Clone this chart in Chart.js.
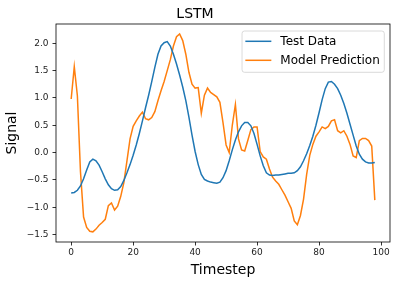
<!DOCTYPE html>
<html>
<head>
<meta charset="utf-8">
<script src="https://cdn.jsdelivr.net/npm/chart.js@4.4.1/dist/chart.umd.min.js"></script>
<style>
  html, body { margin: 0; padding: 0; background: #fff; }
  #wrap { width: 397px; height: 283px; }
</style>
</head>
<body>
<div id="wrap"><canvas id="lstm_chart"></canvas></div>
<script>
var timesteps = [0, 1, 2, 3, 4, 5, 6, 7, 8, 9, 10, 11, 12, 13, 14, 15, 16, 17, 18, 19,
    20, 21, 22, 23, 24, 25, 26, 27, 28, 29, 30, 31, 32, 33, 34, 35, 36, 37, 38, 39,
    40, 41, 42, 43, 44, 45, 46, 47, 48, 49, 50, 51, 52, 53, 54, 55, 56, 57, 58, 59,
    60, 61, 62, 63, 64, 65, 66, 67, 68, 69, 70, 71, 72, 73, 74, 75, 76, 77, 78, 79,
    80, 81, 82, 83, 84, 85, 86, 87, 88, 89, 90, 91, 92, 93, 94, 95, 96, 97, 98];

var testData = [-0.74, -0.73, -0.69, -0.61, -0.48, -0.32, -0.17, -0.12, -0.15, -0.23,
    -0.35, -0.48, -0.59, -0.66, -0.69, -0.68, -0.62, -0.51, -0.37, -0.22,
    -0.05, 0.14, 0.35, 0.58, 0.82, 1.05, 1.30, 1.56, 1.80, 1.95,
    2.01, 2.03, 1.95, 1.80, 1.62, 1.42, 1.20, 0.95, 0.65, 0.32,
    0.02, -0.22, -0.40, -0.49, -0.52, -0.54, -0.55, -0.56, -0.54, -0.46,
    -0.33, -0.15, 0.05, 0.23, 0.38, 0.49, 0.55, 0.55, 0.49, 0.35,
    0.15, -0.06, -0.24, -0.37, -0.41, -0.42, -0.41, -0.41, -0.40, -0.39,
    -0.38, -0.38, -0.37, -0.33, -0.26, -0.15, -0.02, 0.13, 0.30, 0.50,
    0.73, 0.97, 1.17, 1.29, 1.30, 1.25, 1.17, 1.05, 0.90, 0.72,
    0.52, 0.32, 0.12, -0.03, -0.12, -0.17, -0.19, -0.19, -0.18];

var modelPrediction = [0.98, 1.57, 1.04, -0.35, -1.18, -1.37, -1.44, -1.45, -1.40, -1.33,
    -1.28, -1.22, -0.97, -0.92, -1.05, -0.98, -0.80, -0.55, -0.15, 0.25,
    0.48, 0.58, 0.67, 0.74, 0.62, 0.60, 0.64, 0.75, 0.95, 1.13,
    1.30, 1.50, 1.70, 1.95, 2.12, 2.17, 2.05, 1.80, 1.47, 1.25,
    1.18, 1.19, 0.72, 1.05, 1.18, 1.10, 1.06, 1.02, 0.92, 0.55,
    0.14, 0.00, 0.50, 0.88, 0.25, 0.05, 0.03, 0.22, 0.42, 0.47,
    0.47, 0.02, -0.08, -0.12, -0.30, -0.45, -0.52, -0.58, -0.68, -0.78,
    -0.90, -1.02, -1.25, -1.32, -1.15, -0.85, -0.40, -0.05, 0.15, 0.30,
    0.38, 0.47, 0.44, 0.48, 0.58, 0.60, 0.40, 0.36, 0.40, 0.30,
    0.15, -0.06, -0.09, 0.22, 0.26, 0.26, 0.22, 0.12, -0.87];

var xTicks = [0, 20, 40, 60, 80, 100];
var yTicks = [-1.5, -1.0, -0.5, 0.0, 0.5, 1.0, 1.5, 2.0];

var FONT = '"DejaVu Sans", "Liberation Sans", sans-serif';

function points(values) {
    return timesteps.map(function (t, i) { return { x: t, y: values[i] }; });
}

// matplotlib style: box around the axes and legend inside upper right
var frameAndLegend = {
    id: 'frameAndLegend',
    afterDraw: function (chart) {
        var ctx = chart.ctx, area = chart.chartArea;
        ctx.save();
        ctx.strokeStyle = '#000';
        ctx.lineWidth = 0.8;
        ctx.strokeRect(area.left, area.top, area.right - area.left, area.bottom - area.top);

        ctx.font = '12px ' + FONT;
        var sets = chart.data.datasets;
        var textW = 0;
        sets.forEach(function (d) { textW = Math.max(textW, ctx.measureText(d.label).width); });
        var w = 38.3 + textW + 4.5;
        var h = 41.3;
        var x = area.right - 5.7 - w;
        var y = area.top + 7;
        ctx.beginPath();
        if (ctx.roundRect) { ctx.roundRect(x, y, w, h, 2.5); } else { ctx.rect(x, y, w, h); }
        ctx.fillStyle = 'rgba(255,255,255,0.8)';
        ctx.fill();
        ctx.strokeStyle = 'rgba(204,204,204,0.9)';
        ctx.lineWidth = 0.8;
        ctx.stroke();
        for (var i = 0; i < sets.length; i++) {
            var ly = y + 10.3 + i * 19;
            ctx.beginPath();
            ctx.moveTo(x + 3.3, ly);
            ctx.lineTo(x + 29.3, ly);
            ctx.strokeStyle = sets[i].borderColor;
            ctx.lineWidth = 1.5;
            ctx.stroke();
            ctx.fillStyle = '#000';
            ctx.textBaseline = 'middle';
            ctx.textAlign = 'left';
            ctx.fillText(sets[i].label, x + 38.3, ly + 0.5);
        }
        ctx.restore();
    }
};

new Chart(document.getElementById('lstm_chart'), {
    type: 'line',
    data: {
        datasets: [{
            label: 'Test Data',
            data: points(testData),
            borderColor: '#1f77b4',
            borderWidth: 1.5,
            pointRadius: 0,
            fill: false,
            tension: 0
        }, {
            label: 'Model Prediction',
            data: points(modelPrediction),
            borderColor: '#ff7f0e',
            borderWidth: 1.5,
            pointRadius: 0,
            fill: false,
            tension: 0
        }]
    },
    plugins: [frameAndLegend],
    options: {
        responsive: true,
        maintainAspectRatio: false,
        animation: false,
        events: [],
        layout: { padding: { left: 0, right: 7, top: 0, bottom: 0 } },
        plugins: {
            legend: { display: false },
            tooltip: { enabled: false },
            title: {
                display: true,
                text: 'LSTM',
                color: '#000',
                font: { family: FONT, size: 14, weight: 'normal' },
                padding: { top: 6, bottom: 1.2 }
            }
        },
        scales: {
            x: {
                type: 'linear',
                min: -4.9,
                max: 102.9,
                afterBuildTicks: function (scale) {
                    scale.ticks = xTicks.map(function (v) { return { value: v }; });
                },
                afterFit: function (scale) { scale.height = 41; },
                grid: { display: true, drawOnChartArea: false, drawTicks: true, tickLength: 3.5, color: '#000', lineWidth: 0.8 },
                border: { display: false },
                ticks: {
                    color: '#222',
                    padding: 2,
                    maxRotation: 0,
                    font: { family: FONT, size: 9 },
                    callback: function (v) { return String(v); }
                },
                title: {
                    display: true,
                    text: 'Timestep',
                    color: '#000',
                    font: { family: FONT, size: 14 },
                    padding: { top: 0, bottom: 4.5 }
                }
            },
            y: {
                type: 'linear',
                min: -1.636,
                max: 2.353,
                afterBuildTicks: function (scale) {
                    scale.ticks = yTicks.map(function (v) { return { value: v }; });
                },
                afterFit: function (scale) { scale.width = 56; },
                grid: { display: true, drawOnChartArea: false, drawTicks: true, tickLength: 3.5, color: '#000', lineWidth: 0.8 },
                border: { display: false },
                ticks: {
                    color: '#222',
                    padding: 4,
                    font: { family: FONT, size: 9 },
                    callback: function (v) { return v.toFixed(1).replace('-', '\u2212'); }
                },
                title: {
                    display: true,
                    text: 'Signal',
                    color: '#000',
                    font: { family: FONT, size: 14 },
                    padding: { top: 4, bottom: 0 }
                }
            }
        }
    }
});
</script>
</body>
</html>
